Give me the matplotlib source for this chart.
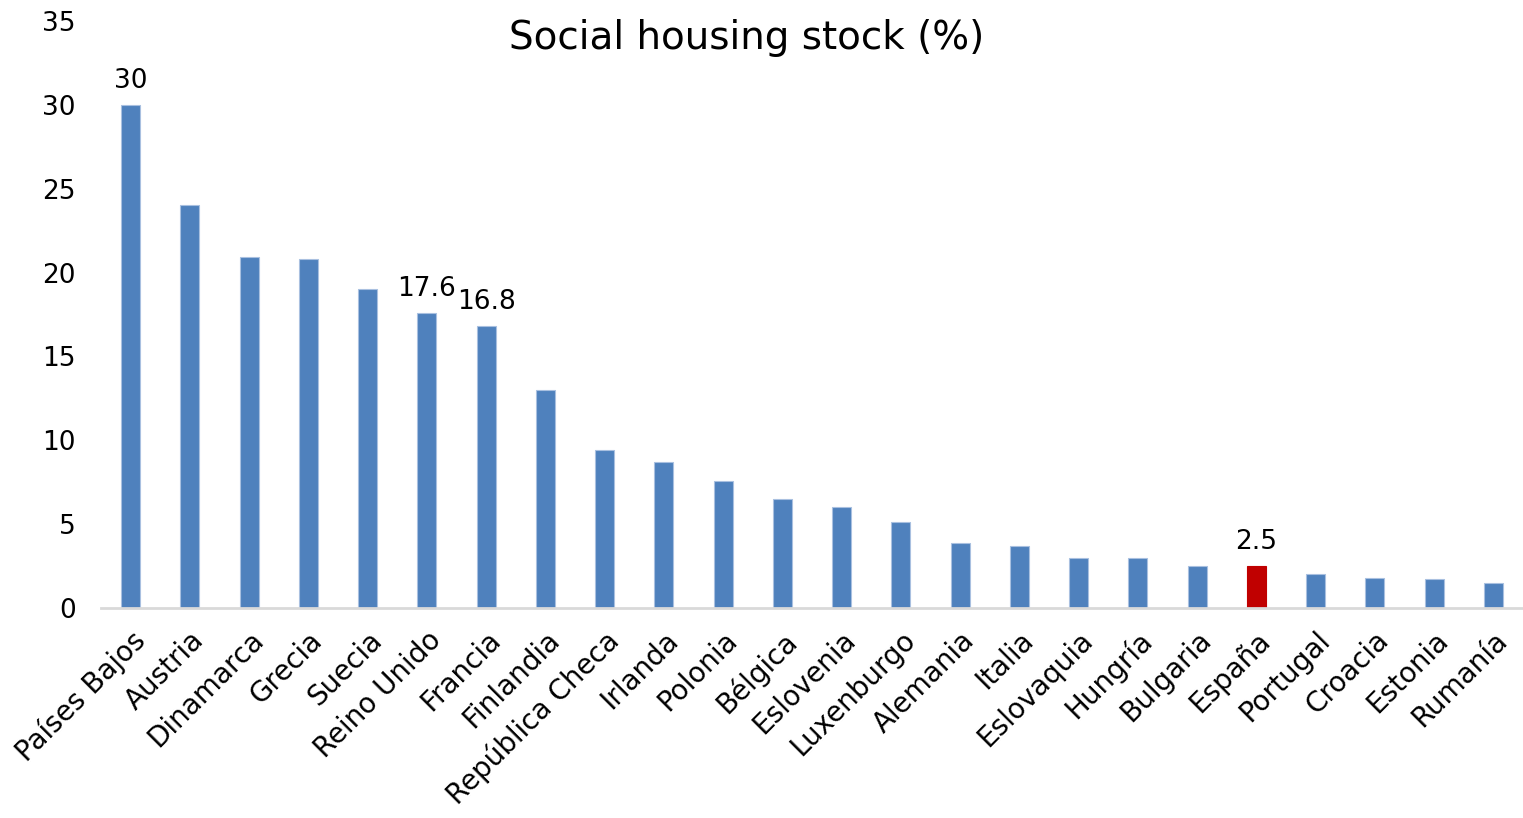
import matplotlib
matplotlib.use("Agg")
import matplotlib.pyplot as plt

countries = ["Países Bajos", "Austria", "Dinamarca", "Grecia", "Suecia", "Reino Unido",
             "Francia", "Finlandia", "República Checa", "Irlanda", "Polonia", "Bélgica",
             "Eslovenia", "Luxenburgo", "Alemania", "Italia", "Eslovaquia", "Hungría",
             "Bulgaria", "España", "Portugal", "Croacia", "Estonia", "Rumanía"]
values = [30, 24.0, 20.9, 20.8, 19.0, 17.6, 16.8, 13.0, 9.4, 8.7, 7.6, 6.5,
          6.0, 5.1, 3.9, 3.7, 3.0, 3.0, 2.5, 2.5, 2.0, 1.8, 1.7, 1.5]
labelled = ["Países Bajos", "Reino Unido", "Francia", "España"]
label_texts = ["30", "17.6", "16.8", "2.5"]
highlight = "España"
yticks = [0, 5, 10, 15, 20, 25, 30, 35]

plt.rcParams['font.family'] = ['DejaVu Sans']

fig = plt.figure(figsize=(15.23, 8.18), dpi=100)
ax = fig.add_axes([101/1523, (818-608)/818, (1523-101)/1523, (608-21)/818])

colors = ["#c00000" if c == highlight else "#4f81bd" for c in countries]
x = list(range(len(countries)))
bars = ax.bar(x, values, width=0.32, color=colors, edgecolor="#a9c0e0", linewidth=0.8)
bars[countries.index(highlight)].set_edgecolor("#c00000")

ax.set_xlim(-0.5, len(countries) - 0.5)
ax.set_ylim(0, 35)
ax.set_yticks(yticks)
ax.set_yticklabels([str(t) for t in yticks], fontsize=19)
ax.tick_params(axis='y', length=0, pad=18)
ax.tick_params(axis='x', length=0, pad=13)
ax.set_xticks(x)
ax.set_xticklabels(countries, rotation=45, ha='right', rotation_mode='anchor', fontsize=20)

for s in ["top", "right", "left"]:
    ax.spines[s].set_visible(False)
ax.spines["bottom"].set_color("#d9d9d9")
ax.spines["bottom"].set_linewidth(2)

for name, txt in zip(labelled, label_texts):
    i = countries.index(name)
    ax.annotate(txt, (i, values[i]), xytext=(0, 8), textcoords="offset points",
                ha='center', va='bottom', fontsize=19)

fig.text(0.49, 0.953, "Social housing stock (%)", ha='center', va='center', fontsize=28)

fig.savefig("out.png", dpi=100)
